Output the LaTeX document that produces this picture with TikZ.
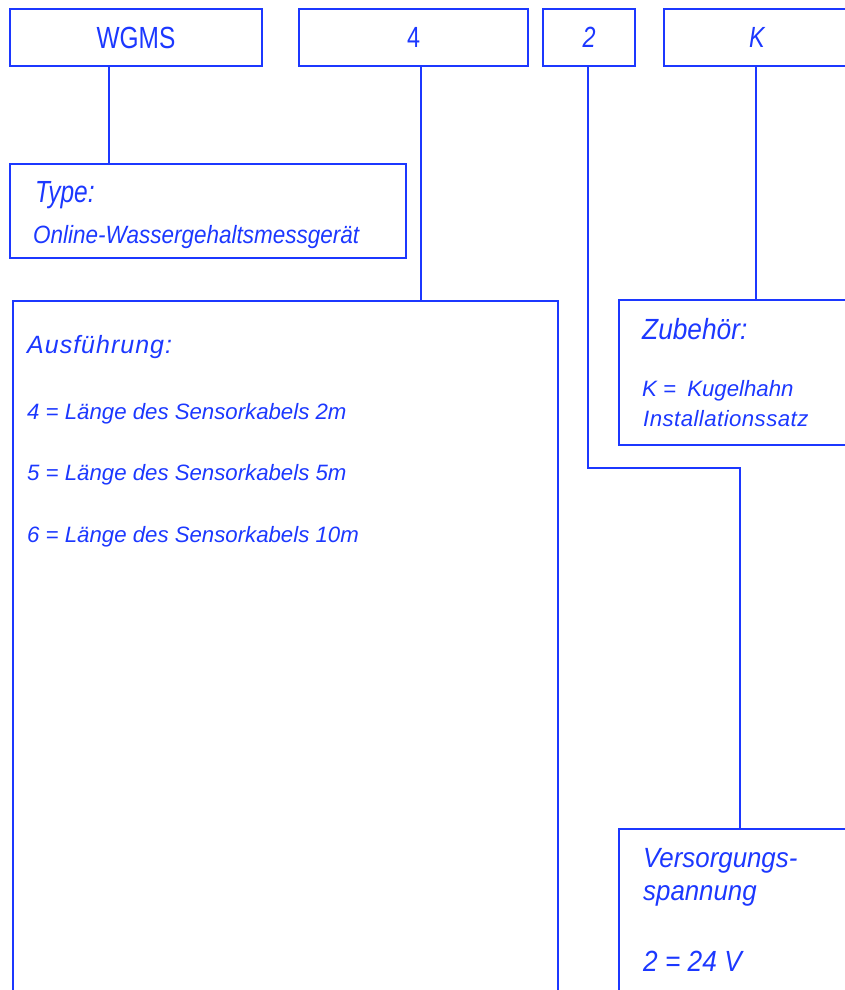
\documentclass[tikz,border=0pt]{standalone}
\usepackage{fontspec}
\setmainfont{Liberation Sans}
\newfontfamily\narrowA{Liberation Sans}[FakeStretch=0.80]
\newfontfamily\narrowB{Liberation Sans}[FakeStretch=0.90]
\newfontfamily\narrowC{Liberation Sans}[FakeStretch=0.93]
\newfontfamily\wideA{Liberation Sans}[LetterSpace=4]
\newfontfamily\wideB{Liberation Sans}[LetterSpace=2]
\definecolor{codeblue}{RGB}{28,56,255}
\tikzset{
  codebox/.style={draw=codeblue, line width=2bp, rectangle, inner sep=0pt, anchor=north west, text=codeblue},
  desc/.style={anchor=base west, inner sep=0pt, text=codeblue},
  link/.style={draw=codeblue, line width=2bp},
}

\begin{document}
\begin{tikzpicture}[x=1bp, y=-1bp]
\useasboundingbox (0,0) rectangle (845,990);
\clip (0,0) rectangle (845,990);

% code boxes
\node [codebox, minimum width=252bp, minimum height=57bp] (wgms) at (9,8)
  {\narrowA\fontsize{30.7}{36}\selectfont WGMS};
\node [codebox, minimum width=229bp, minimum height=57bp] (four) at (298,8)
  {\narrowA\fontsize{29.3}{34}\selectfont 4};
\node [codebox, minimum width=92bp, minimum height=57bp] (two) at (542,8)
  {\narrowA\fontsize{29.3}{34}\selectfont\itshape 2};
\node [codebox, minimum width=186bp, minimum height=57bp] (kbox) at (663,8)
  {\narrowA\fontsize{29.3}{34}\selectfont\itshape K};

% description boxes
\node [codebox, minimum width=396bp, minimum height=94bp] (type) at (9,163) {};
\node [codebox, minimum width=545bp, minimum height=700bp] (ausf) at (12,300) {};
\node [codebox, minimum width=242bp, minimum height=145bp] (zub) at (618,299) {};
\node [codebox, minimum width=242bp, minimum height=172bp] (vers) at (618,828) {};

\node [desc] (typehead) at (35,202) {\narrowA\fontsize{30.7}{36}\selectfont\itshape Type:};
\node [desc] (typetext) at (33,243) {\narrowB\fontsize{25.1}{30}\selectfont\itshape Online-Wassergehaltsmessgerät};

\node [desc] (ausfhead) at (27,353) {\wideA\fontsize{25.1}{30}\selectfont\itshape Ausführung:};
\node [desc] (ausf4) at (27,419) {\fontsize{22.3}{27}\selectfont\itshape 4 = Länge des Sensorkabels 2m};
\node [desc] (ausf5) at (27,480) {\fontsize{22.3}{27}\selectfont\itshape 5 = Länge des Sensorkabels 5m};
\node [desc] (ausf6) at (27,542) {\fontsize{22.3}{27}\selectfont\itshape 6 = Länge des Sensorkabels 10m};

\node [desc] (zubhead) at (642,339) {\narrowB\fontsize{29.3}{34}\selectfont\itshape Zubehör:};
\node [desc] (zubk) at (642,396) {\fontsize{22.3}{27}\selectfont\itshape K =\hspace{0.5em}Kugelhahn};
\node [desc] (zubset) at (643,426) {\wideB\fontsize{22.3}{27}\selectfont\itshape Installationssatz};

\node [desc] (vershead) at (643,867) {\narrowC\fontsize{27.9}{33}\selectfont\itshape Versorgungs-};
\node [desc] (verscont) at (643,900) {\narrowC\fontsize{27.9}{33}\selectfont\itshape spannung};
\node [desc] (vers2) at (643,971) {\narrowB\fontsize{29.3}{34}\selectfont\itshape 2 = 24 V};

% connectors
\coordinate (wgmsdrop) at (109,0);
\coordinate (fourdrop) at (421,0);
\coordinate (twodrop) at (588,468);
\coordinate (versdrop) at (740,0);
\coordinate (kdrop) at (756,0);
\draw [link] (wgms.south -| wgmsdrop) -- (type.north -| wgmsdrop);
\draw [link] (four.south -| fourdrop) -- (ausf.north -| fourdrop);
\draw [link] (two.south -| twodrop) -- (twodrop) -| (vers.north -| versdrop);
\draw [link] (kbox.south -| kdrop) -- (zub.north -| kdrop);

\end{tikzpicture}
\end{document}
